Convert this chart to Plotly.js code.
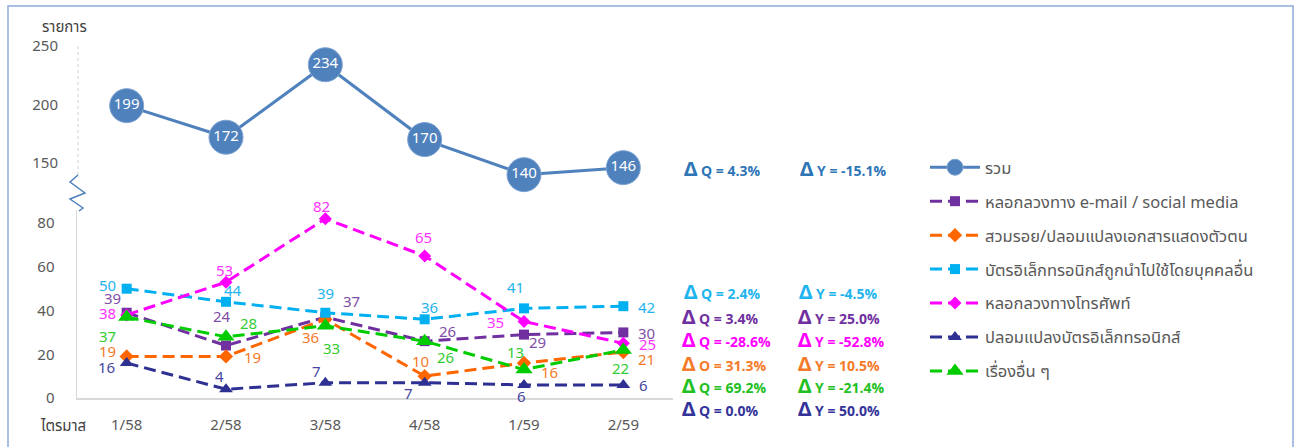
<!DOCTYPE html>
<html>
<head>
<meta charset="utf-8">
<script src="https://cdn.plot.ly/plotly-3.0.1.min.js"></script>
<style>html,body{margin:0;padding:0;background:#fff;}#chart{width:1300px;height:447px;}</style>
</head>
<body>
<div id="chart"></div>
<script>
// ---- data ----
const quarters = ['1/58', '2/58', '3/58', '4/58', '1/59', '2/59'];
const seriesNames = [
  'รวม',
  'หลอกลวงทาง e-mail / social media',
  'สวมรอย/ปลอมแปลงเอกสารแสดงตัวตน',
  'บัตรอิเล็กทรอนิกส์ถูกนำไปใช้โดยบุคคลอื่น',
  'หลอกลวงทางโทรศัพท์',
  'ปลอมแปลงบัตรอิเล็กทรอนิกส์',
  'เรื่องอื่น ๆ'
];
const total       = [199, 172, 234, 170, 140, 146];
const emailSocial = [39, 24, 37, 26, 29, 30];
const identity    = [19, 19, 36, 10, 16, 21];
const cardUsed    = [50, 44, 39, 36, 41, 42];
const phone       = [38, 53, 82, 65, 35, 25];
const cardFake    = [16, 4, 7, 7, 6, 6];
const others      = [37, 28, 33, 26, 13, 22];
const deltaQ = ['Q = 4.3%', 'Q = 3.4%', 'O = 31.3%', 'Q = 2.4%', 'Q = -28.6%', 'Q = 0.0%', 'Q = 69.2%'];
const deltaY = ['Y = -15.1%', 'Y = 25.0%', 'Y = 10.5%', 'Y = -4.5%', 'Y = -52.8%', 'Y = 50.0%', 'Y = -21.4%'];
const yAxisTitle = 'รายการ';
const xAxisTitle = 'ไตรมาส';

// ---- style / placement (not data) ----
const L = 77, R = 673, T = 46, B = 398;
const W = 1300, H = 447;
const px = p => (p - L) / (R - L);
const py = p => (B - p) / (B - T);

const FONT = 'Tahoma, "Noto Sans Thai", "Noto Sans", "DejaVu Sans", sans-serif';
const colors = ['#4f81bd', '#7030a0', '#ff6600', '#00b0f0', '#ff00ff', '#2e3192', '#00cc00'];
const textColors = ['#ffffff', '#7f4fa8', '#f47b2a', '#1fb4ee', '#ff33ff', '#4646a0', '#33cc33'];
const dashPat = '12px,6px';

// label pixel offsets [dx, dy(down)] per point
const labelOffsets = {
  1: [[-14, -13], [-4, -28], [26, -15], [23, -9], [13, 9], [23, 2]],
  2: [[-19, -4], [26, 2], [-15, 19], [-4, -14], [25, 10], [23, 8]],
  3: [[-19, -2], [7, -10], [0, -18], [5, -11], [-9, -20], [23, 2]],
  4: [[-19, 0], [-2, -11], [-4, -11], [-1, -17], [-29, 2], [24, 2]],
  5: [[-20, 5], [-7, -12], [-9, -10], [-16, 12], [-3, 13], [20, 2]],
  6: [[-19, 20], [22, -12], [6, 24], [21, 17], [-9, -16], [-3, 20]]
};

const series = [total, emailSocial, identity, cardUsed, phone, cardFake, others];
const symbols = [null, 'square', 'diamond', 'square', 'diamond', 'triangle-up', 'triangle-up'];
const msizes = [34, 10, 11, 10, 10, 12, 15];

const traces = [{
  x: quarters, y: total, yaxis: 'y2', type: 'scatter', mode: 'lines+markers+text',
  name: seriesNames[0], legendgroup: 'g0',
  line: {color: colors[0], width: 3},
  marker: {color: colors[0], size: 34, line: {color: '#7ea3d3', width: 1}},
  text: total.map(String), textposition: 'middle center',
  textfont: {family: FONT, size: 15, color: '#ffffff'},
  cliponaxis: false
}];
for (let i = 1; i < series.length; i++) {
  traces.push({
    x: quarters, y: series[i], yaxis: 'y', type: 'scatter', mode: 'lines+markers',
    name: seriesNames[i], legendgroup: 'g' + i,
    line: {color: colors[i], width: 3, dash: dashPat},
    marker: {color: colors[i], symbol: symbols[i], size: msizes[i]},
    cliponaxis: false
  });
}

const annotations = [];
// data labels through axes
for (let i = 1; i < series.length; i++) {
  series[i].forEach((v, j) => {
    annotations.push({
      xref: 'x', yref: 'y', x: quarters[j], y: v, text: String(v), showarrow: false,
      xshift: labelOffsets[i][j][0], yshift: -labelOffsets[i][j][1],
      font: {family: FONT, size: 15, color: textColors[i]}
    });
  });
}

// delta annotations
const deltaRows = [
  {s: 0, y: 170, qx: 682, yx: 798},
  {s: 3, y: 293, qx: 682, yx: 797},
  {s: 1, y: 318, qx: 680, yx: 796},
  {s: 4, y: 341, qx: 680, yx: 796},
  {s: 2, y: 365, qx: 680, yx: 796},
  {s: 6, y: 387, qx: 680, yx: 796},
  {s: 5, y: 410, qx: 680, yx: 796}
];
const deltaColors = ['#2e75b6', '#7030a0', '#f47b2a', '#1fb4ee', '#ff00ff', '#333399', '#22c022'];
deltaRows.forEach(r => {
  const s = r.s;
  const mk = (txt, xp) => ({
    xref: 'paper', yref: 'paper', x: px(xp), y: py(r.y), xanchor: 'left', yanchor: 'middle',
    showarrow: false,
    text: '<b><span style="font-size:20px">Δ</span> ' + txt + '</b>',
    font: {family: FONT, size: 14, color: deltaColors[s]}
  });
  annotations.push(mk(deltaQ[s], r.qx));
  annotations.push(mk(deltaY[s], r.yx));
});
annotations.push({xref: 'paper', yref: 'paper', x: px(40), y: py(27), xanchor: 'left', yanchor: 'middle',
  showarrow: false, text: yAxisTitle, font: {family: FONT, size: 15, color: '#404040'}});
annotations.push({xref: 'paper', yref: 'paper', x: px(38), y: py(426), xanchor: 'left', yanchor: 'middle',
  showarrow: false, text: xAxisTitle, font: {family: FONT, size: 15, color: '#404040'}});

// zigzag break + frame
const zz = [[78, 175], [70, 182], [85, 193], [70, 199], [83, 208], [79, 211]];
const zzPath = 'M ' + zz.map(p => px(p[0]) + ',' + py(p[1])).join(' L ');
const shapes = [
  {type: 'line', xref: 'paper', yref: 'paper', x0: px(78), x1: px(78), y0: py(175), y1: 1,
   line: {color: '#cfcfcf', width: 1, dash: 'dot'}},
  {type: 'path', xref: 'paper', yref: 'paper', path: zzPath, line: {color: '#4f81bd', width: 1.5}},
  {type: 'rect', xref: 'paper', yref: 'paper', x0: px(8), x1: px(1293), y0: py(460), y1: py(6),
   line: {color: '#8eaadb', width: 1.5}, fillcolor: 'rgba(0,0,0,0)'}
];

const layout = {
  width: W, height: H,
  margin: {l: L, r: W - R, t: T, b: H - B, pad: 0},
  paper_bgcolor: '#ffffff', plot_bgcolor: '#ffffff',
  font: {family: FONT, size: 15, color: '#595959'},
  showlegend: true,
  legend: {x: px(925), y: py(150), xanchor: 'left', yanchor: 'top', traceorder: 'grouped',
    itemwidth: 50, tracegroupgap: 9.5,
    font: {family: FONT, size: 16.5, color: '#595959'}, bgcolor: 'rgba(0,0,0,0)'},
  xaxis: {type: 'category', range: [-0.5, 5.5], showgrid: false, zeroline: false,
    showline: true, linecolor: '#d9d9d9', linewidth: 1.5, ticks: '',
    tickfont: {family: FONT, size: 15, color: '#595959'}, anchor: 'y', ticklabelstandoff: 12},
  yaxis: {domain: [0, py(210)], range: [0, 86], tickvals: [0, 20, 40, 60, 80], showgrid: false,
    zeroline: false, showline: true, linecolor: '#d9d9d9', linewidth: 1.5, ticks: '',
    tickfont: {family: FONT, size: 15, color: '#595959'}, ticklabelstandoff: 18},
  yaxis2: {domain: [py(177), 1], range: [138, 250], tickvals: [150, 200, 250], showgrid: false,
    zeroline: false, showline: false, ticks: '',
    tickfont: {family: FONT, size: 15, color: '#595959'}, ticklabelstandoff: 18, anchor: 'x'},
  annotations: annotations,
  shapes: shapes,
  hovermode: false
};

Plotly.newPlot('chart', traces, layout, {displayModeBar: false, staticPlot: true});
</script>
</body>
</html>
